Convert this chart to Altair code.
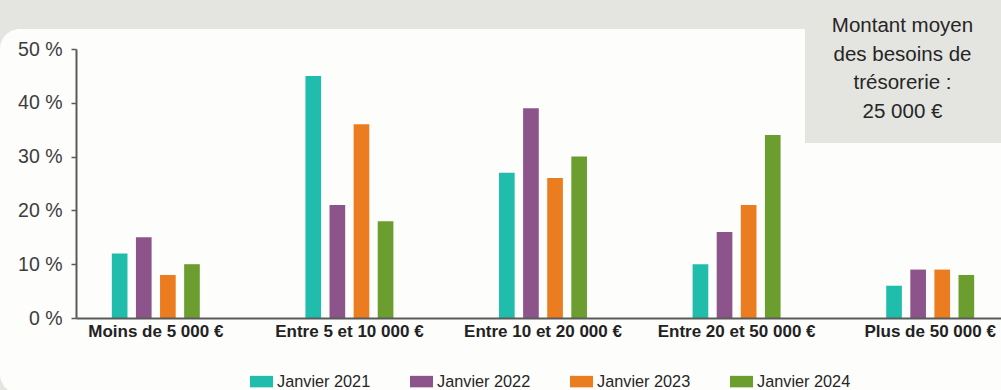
import altair as alt
import pandas as pd

categories = ["Moins de 5 000 €", "Entre 5 et 10 000 €", "Entre 10 et 20 000 €",
              "Entre 20 et 50 000 €", "Plus de 50 000 €"]
years = ["Janvier 2021", "Janvier 2022", "Janvier 2023", "Janvier 2024"]
v2021 = [12, 45, 27, 10, 6]
v2022 = [15, 21, 39, 16, 9]
v2023 = [8, 36, 26, 21, 9]
v2024 = [10, 18, 30, 34, 8]
colors = ["#21bdac", "#8d548b", "#eb7c1f", "#6b9e2f"]
y_ticks = [0, 10, 20, 30, 40, 50]
note_lines = ["Montant moyen", "des besoins de", "trésorerie :", "25 000 €"]

series = [v2021, v2022, v2023, v2024]
rows = []
for yi, yr in enumerate(years):
    for ci, cat in enumerate(categories):
        rows.append({"cat": cat, "year": yr, "val": series[yi][ci]})
df = pd.DataFrame(rows)

FONT = "Liberation Sans, Arial, sans-serif"
W, H = 925, 269

one = alt.Data(values=[{}])

panel = alt.Chart(one).mark_rect(color="#fdfdfc", cornerRadius=20).encode(
    x=alt.value(-76), x2=alt.value(960), y=alt.value(-20), y2=alt.value(345)
)
box = alt.Chart(one).mark_rect(color="#e4e4e0").encode(
    x=alt.value(729), x2=alt.value(940), y=alt.value(-60), y2=alt.value(94)
)
note = alt.Chart(one).mark_text(
    font=FONT, fontSize=20.5, color="#262626", align="center",
    baseline="alphabetic", lineHeight=28.7
).encode(x=alt.value(826.5), y=alt.value(-17), text=alt.value(note_lines))

bars = alt.Chart(df).mark_bar().encode(
    x=alt.X("cat:N", sort=categories,
            scale=alt.Scale(range=[0, 934], paddingInner=0.5, paddingOuter=0.1623),
            axis=alt.Axis(title=None, labelAngle=0, ticks=False, labelPadding=5,
                          labelFont=FONT, labelFontSize=17, labelFontWeight="bold",
                          labelColor="#222222", domainColor="#5a5a5a", domainWidth=2,
                          labelLimit=300, zindex=1)),
    xOffset=alt.XOffset("year:N", sort=years,
                        scale=alt.Scale(paddingInner=0.35, paddingOuter=0.183)),
    y=alt.Y("val:Q", scale=alt.Scale(domain=[0, 50]),
            axis=alt.Axis(title=None, values=y_ticks, grid=False,
                          labelExpr="datum.value + ' %'",
                          labelFont=FONT, labelFontSize=19.5, labelColor="#3c3c3c",
                          labelPadding=9, tickSize=5, tickColor="#5a5a5a", tickWidth=1.5,
                          domainColor="#5a5a5a", domainWidth=2, zindex=1)),
    color=alt.Color("year:N", sort=years,
                    scale=alt.Scale(domain=years, range=colors),
                    legend=alt.Legend(title=None, orient="none", legendX=174, legendY=321,
                                      direction="horizontal", columns=4,
                                      symbolType="M-1,-0.5H1V0.5H-1Z", symbolSize=529,
                                      symbolStrokeWidth=0, labelOffset=4,
                                      labelFont=FONT, labelFontSize=16.3, labelColor="#262626",
                                      labelLimit=200, columnPadding=39, padding=0)),
)

chart = alt.layer(panel, box, note, bars).properties(
    width=W, height=H,
    autosize=alt.AutoSizeParams(type="none"),
    padding={"left": 76, "top": 49, "right": 0, "bottom": 72},
    background="#e4e4e0",
).configure_view(strokeWidth=0)

chart.save("out.html", embed_options={"renderer": "svg", "actions": False})
